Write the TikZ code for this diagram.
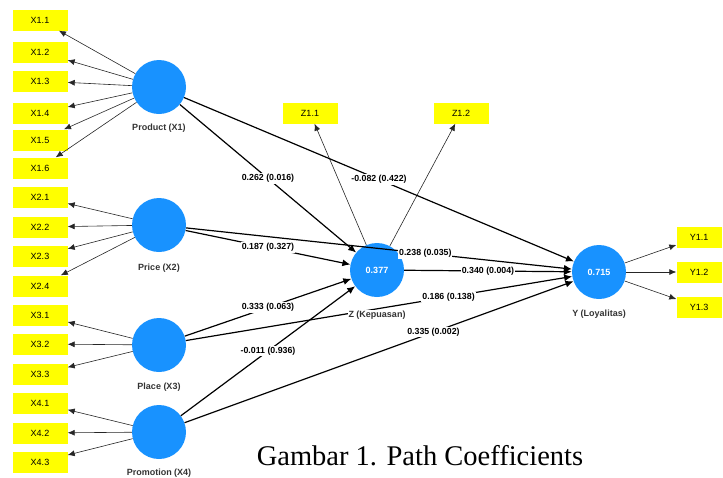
\documentclass[tikz,border=0pt]{standalone}
\usepackage{fontspec}
\setmainfont{Liberation Sans}
\newfontfamily\capfont{Liberation Serif}
\usetikzlibrary{arrows.meta}
\definecolor{lvblue}{RGB}{24,146,255}
\definecolor{indy}{RGB}{255,255,0}
\begin{document}
\begin{tikzpicture}[x=1pt,y=-1pt,
 ind/.style={fill=indy, minimum width=55pt, minimum height=21pt, inner sep=0pt, font=\fontsize{9}{10}\selectfont},
 lv/.style={circle, fill=lvblue, minimum size=54pt, inner sep=0pt, text=white, font=\fontsize{9}{10}\selectfont\bfseries},
 lvlab/.style={font=\fontsize{9}{10}\selectfont\bfseries, text=black!80, inner sep=1pt},
 ia/.style={-{Latex[length=7pt,width=6pt]}, line width=0.6pt, draw=black!85},
 pa/.style={-{Latex[length=8pt,width=7pt]}, line width=1.2pt},
 coef/.style={fill=white, inner sep=1pt, font=\fontsize{8.8}{10}\selectfont\bfseries}
]
\useasboundingbox (0,0) rectangle (723,477);
\clip (0,0) rectangle (723,477);
% latent variables
\node[lv] (p1) at (159,87) {};
\node[lv] (p2) at (159,225) {};
\node[lv] (p3) at (159,345) {};
\node[lv] (p4) at (159,432) {};
\node[lv] (z) at (377,270) {0.377};
\node[lv] (y) at (599,272) {0.715};
% indicators
\node[ind] (x11) at (40,20) {X1.1};
\node[ind] (x12) at (40,52) {X1.2};
\node[ind] (x13) at (40,81) {X1.3};
\node[ind] (x14) at (40,113) {X1.4};
\node[ind] (x15) at (40,140) {X1.5};
\node[ind] (x16) at (40,168) {X1.6};
\node[ind] (x21) at (40,197) {X2.1};
\node[ind] (x22) at (40,227) {X2.2};
\node[ind] (x23) at (40,256) {X2.3};
\node[ind] (x24) at (40,286) {X2.4};
\node[ind] (x31) at (40,315) {X3.1};
\node[ind] (x32) at (40,344) {X3.2};
\node[ind] (x33) at (40,374) {X3.3};
\node[ind] (x41) at (40,403) {X4.1};
\node[ind] (x42) at (40,433) {X4.2};
\node[ind] (x43) at (40,462) {X4.3};
\node[ind] (z11) at (310,113) {Z1.1};
\node[ind] (z12) at (461,113) {Z1.2};
\node[ind, minimum width=45pt] (y11) at (699,237) {Y1.1};
\node[ind, minimum width=45pt] (y12) at (699,272) {Y1.2};
\node[ind, minimum width=45pt] (y13) at (699,307) {Y1.3};
% indicator arrows
\foreach \t in {x11,x12,x13,x14,x15,x16} \draw[ia] (p1) -- (\t);
\foreach \t in {x21,x22,x23,x24} \draw[ia] (p2) -- (\t);
\foreach \t in {x31,x32,x33} \draw[ia] (p3) -- (\t);
\foreach \t in {x41,x42,x43} \draw[ia] (p4) -- (\t);
\foreach \t in {z11,z12} \draw[ia] (z) -- (\t);
\foreach \t in {y11,y12,y13} \draw[ia] (y) -- (\t);
% structural paths
\draw[pa] (p1) -- (z);
\draw[pa] (p1) -- (y);
\draw[pa] (p2) -- (z);
\draw[pa] (p2) -- (y);
\draw[pa] (p3) -- (z);
\draw[pa] (p3) -- (y);
\draw[pa] (p4) -- (z);
\draw[pa] (p4) -- (y);
\draw[pa] (z) -- (y);
% construct labels
\node[lvlab] (l1) at (159,128) {Product (X1)};
\node[lvlab] (l2) at (159,268) {Price (X2)};
\node[lvlab] (l3) at (159,387) {Place (X3)};
\node[lvlab] (l4) at (159,473) {Promotion (X4)};
\node[lvlab, fill=white] (lz) at (377,315) {Z (Kepuasan)};
\node[lvlab] (ly) at (599,314) {Y (Loyalitas)};
% coefficients
\path (p1) -- (z) node[coef, pos=0.5] (c1) {0.262 (0.016)};
\path (p1) -- (y) node[coef, pos=0.5] (c2) {-0.082 (0.422)};
\path (p2) -- (z) node[coef, pos=0.5] (c3) {0.187 (0.327)};
\path (p2) -- (y) node[coef, pos=0.62] (c4) {0.238 (0.035)};
\path (z) -- (y) node[coef, pos=0.5] (c5) {0.340 (0.004)};
\path (p3) -- (z) node[coef, pos=0.5] (c6) {0.333 (0.063)};
\path (p3) -- (y) node[coef, pos=0.68] (c7) {0.186 (0.138)};
\path (p4) -- (z) node[coef, pos=0.5] (c8) {-0.011 (0.936)};
\path (p4) -- (y) node[coef, pos=0.64] (c9) {0.335 (0.002)};
% caption
\node[font=\capfont\fontsize{28.5}{30}\selectfont] (cap) at (420,456) {Gambar 1. Path Coefficients};
\end{tikzpicture}
\end{document}
